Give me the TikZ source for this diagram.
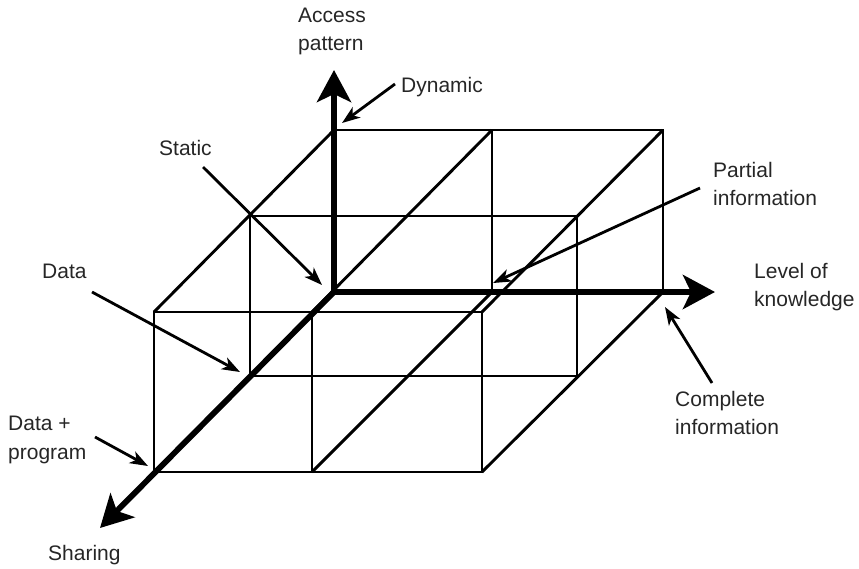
\documentclass[tikz,border=0pt]{standalone}
\usepackage{fontspec}
\setmainfont{Liberation Sans}
\usetikzlibrary{arrows.meta}
\begin{document}
\begin{tikzpicture}[x=1pt,y=-1pt,
  boxline/.style={line width=2.9pt},
  axisline/.style={line width=5.8pt},
  bigtip/.tip={Stealth[length=32pt,width=34pt,inset=8pt]},
  smalltip/.tip={Stealth[length=18pt,width=13pt,inset=5pt]},
  note/.style={line width=2.8pt,-smalltip},
  lbl/.style={font=\fontsize{21}{28.7}\selectfont,text=black!85,inner sep=0pt,anchor=base west,align=left}]
\useasboundingbox (0,0) rectangle (859,568);
% back face
\coordinate (O) at (334,292);
\coordinate (B1) at (334,130);
\coordinate (B2) at (492,130);
\coordinate (B3) at (663,130);
\coordinate (B4) at (663,292);
\coordinate (B5) at (492,292);
% middle plane
\coordinate (M1) at (250,216);
\coordinate (M3) at (577,216);
\coordinate (M4) at (577,376);
\coordinate (M6) at (250,376);
% front face
\coordinate (F1) at (154,312);
\coordinate (F2) at (312,312);
\coordinate (F3) at (482,312);
\coordinate (F4) at (482,472);
\coordinate (F5) at (312,472);
\coordinate (F6) at (154,472);
% axis tips
\coordinate (Ytip) at (334,70);
\coordinate (Xtip) at (715,292);
\coordinate (Ztip) at (100,528);

\draw[boxline] (B1) -- (B3) -- (B4) -- (O);
\draw[boxline] (B2) -- (B5);
\draw[boxline] (M1) -- (M3) -- (M4) -- (M6) -- cycle;
\draw[boxline] (F1) -- (F3) -- (F4) -- (F6) -- cycle;
\draw[boxline] (F2) -- (F5);
\draw[boxline] (B1) -- (F1);
\draw[boxline] (B2) -- (F2);
\draw[boxline] (B3) -- (F3);
\draw[boxline] (B4) -- (F4);
\draw[boxline] (B5) -- (F5);

\draw[axisline,line cap=round,-bigtip] (O) -- (Ztip);
\draw[axisline,bigtip-bigtip] (Ytip) -- (O) -- (Xtip);

% labels (base anchor = baseline of the last line)
\node[lbl] (access) at (298,50.7) {Access\\pattern};
\node[lbl] (dynamic) at (401,92) {Dynamic};
\node[lbl] (static) at (159,155) {Static};
\node[lbl] (partial) at (713,205.7) {Partial\\information};
\node[lbl] (level) at (754,306.7) {Level of\\knowledge};
\node[lbl] (data) at (42,278) {Data};
\node[lbl] (dataprog) at (8,459) {Data +\\program};
\node[lbl] (complete) at (675,434.7) {Complete\\information};
\node[lbl] (sharing) at (48,560) {Sharing};

% annotation arrows
\coordinate (dynT) at (395,84);   \coordinate (dynH) at (342,123);
\coordinate (staT) at (203,167);  \coordinate (staH) at (322,285);
\coordinate (parT) at (700,188);  \coordinate (parH) at (493,283);
\coordinate (datT) at (92,292);   \coordinate (datH) at (240,372);
\coordinate (dpT) at (95,437);    \coordinate (dpH) at (148,466);
\coordinate (comT) at (712,383);  \coordinate (comH) at (665,307);
\draw[note] (dynT) -- (dynH);
\draw[note] (staT) -- (staH);
\draw[note] (parT) -- (parH);
\draw[note] (datT) -- (datH);
\draw[note] (dpT) -- (dpH);
\draw[note] (comT) -- (comH);
\end{tikzpicture}
\end{document}
